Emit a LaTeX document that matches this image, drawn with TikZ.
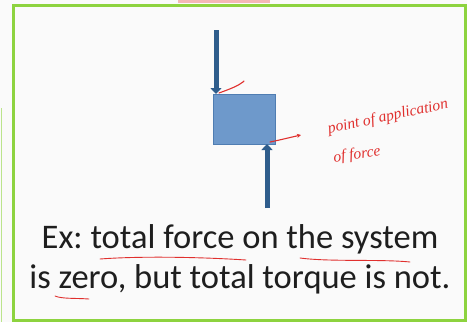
\documentclass[tikz,border=0pt]{standalone}
\usepackage{fontspec}
\setmainfont{Carlito}
\newfontfamily\handfont{Liberation Serif}
\usetikzlibrary{arrows.meta}
\frenchspacing
\definecolor{framegreen}{HTML}{8DD33F}
\definecolor{bardark}{HTML}{2F5D8C}
\definecolor{boxfill}{HTML}{6E99CB}
\definecolor{boxedge}{HTML}{4F7DB2}
\definecolor{inkred}{HTML}{E0302E}
\definecolor{textgray}{HTML}{1E1E1E}
\definecolor{bg}{HTML}{FAFAFA}
\tikzset{
  x=1pt, y=-1pt,
  forcebar/.style={draw=bardark, line width=5pt, -{Triangle[width=11pt,length=6pt]}},
  body/.style={draw=boxedge, fill=boxfill, line width=0.8pt, minimum width=62pt, minimum height=50pt, inner sep=0pt},
  ink/.style={draw=inkred, line width=1.1pt, line cap=round},
  handtext/.style={text=inkred, font=\handfont\itshape\fontsize{15.5}{16}\selectfont, inner sep=0pt},
  mainline/.style={text=textgray, font=\fontsize{34.5}{38}\selectfont, inner sep=0pt, anchor=base}
}
\begin{document}
\begin{tikzpicture}
\fill[bg] (0,0) rectangle (467,322);
\useasboundingbox (0,0) rectangle (467,322);
% top red smear and left faint line
\fill[inkred!35] (178,0) rectangle (270,2.5);
\draw[framegreen!60, line width=1pt] (1.5,108) -- (1.5,322);
% frame
\draw[framegreen, line width=3pt] (13,5) rectangle (465,320);
% body
\node[body] (box) at (244,119) {};
\coordinate (topstart) at (216,30);
\coordinate (topend) at (216,94);
\coordinate (botstart) at (267,208);
\coordinate (botend) at (267,144);
\draw[forcebar] (topstart) -- (topend);
\draw[forcebar] (botstart) -- (botend);
% red annotations
\coordinate (hookA) at (219,93);
\coordinate (hookB) at (243,82);
\draw[ink] (hookA) .. controls (230,89) and (238,86) .. (hookB) -- (244,81);
\coordinate (ptA) at (270,142);
\coordinate (ptB) at (301,135);
\draw[ink, -{Stealth[length=4pt,width=4pt]}] (ptA) .. controls (280,140) and (292,137) .. (ptB);
\node[handtext, rotate=12] (lab1) at (388,117) {point of application};
\node[handtext, rotate=8] (lab2) at (357,155) {of force};
% main text
\node[mainline] (l1) at (240,248) {Ex: total force on the system};
\node[mainline] (l2) at (240,288) {is zero, but total torque is not.};
% underlines
\coordinate (u1a) at (100,259);
\coordinate (u1b) at (246,260);
\draw[ink, line width=0.9pt] (u1a) .. controls (140,256) and (200,257) .. (u1b);
\coordinate (u2a) at (300,258);
\coordinate (u2b) at (410,262);
\draw[ink, line width=0.9pt] (u2a) .. controls (330,262) and (380,259) .. (u2b);
\coordinate (u3a) at (55,296);
\coordinate (u3b) at (89,299);
\draw[ink, line width=0.9pt] (u3a) .. controls (62,299) and (75,298) .. (u3b);
\end{tikzpicture}
\end{document}
